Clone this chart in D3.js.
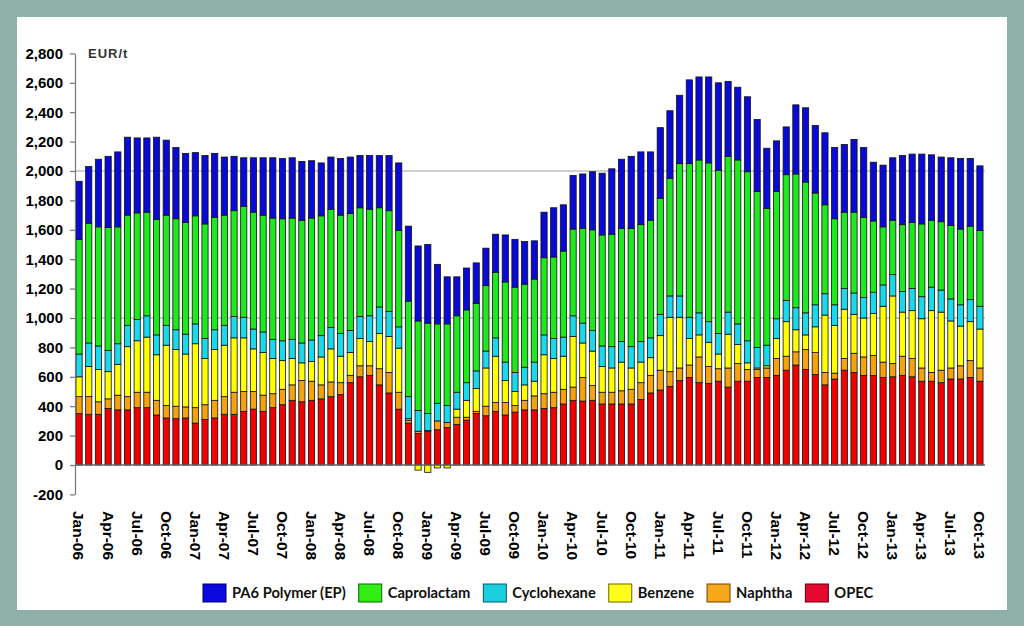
<!DOCTYPE html>
<html><head><meta charset="utf-8">
<script src="https://cdn.jsdelivr.net/npm/d3@7"></script>
<style>html,body{margin:0;padding:0;background:#8fb0a8;}svg{display:block;}</style>
</head><body>
<svg id="c" width="1024" height="626"></svg>
<script>
const months = ["Jan-06","Feb-06","Mar-06","Apr-06","May-06","Jun-06","Jul-06","Aug-06","Sep-06","Oct-06","Nov-06","Dec-06",
"Jan-07","Feb-07","Mar-07","Apr-07","May-07","Jun-07","Jul-07","Aug-07","Sep-07","Oct-07","Nov-07","Dec-07",
"Jan-08","Feb-08","Mar-08","Apr-08","May-08","Jun-08","Jul-08","Aug-08","Sep-08","Oct-08","Nov-08","Dec-08",
"Jan-09","Feb-09","Mar-09","Apr-09","May-09","Jun-09","Jul-09","Aug-09","Sep-09","Oct-09","Nov-09","Dec-09",
"Jan-10","Feb-10","Mar-10","Apr-10","May-10","Jun-10","Jul-10","Aug-10","Sep-10","Oct-10","Nov-10","Dec-10",
"Jan-11","Feb-11","Mar-11","Apr-11","May-11","Jun-11","Jul-11","Aug-11","Sep-11","Oct-11","Nov-11","Dec-11",
"Jan-12","Feb-12","Mar-12","Apr-12","May-12","Jun-12","Jul-12","Aug-12","Sep-12","Oct-12","Nov-12","Dec-12",
"Jan-13","Feb-13","Mar-13","Apr-13","May-13","Jun-13","Jul-13","Aug-13","Sep-13","Oct-13"];

const xTickLabels = ["Jan-06","Apr-06","Jul-06","Oct-06","Jan-07","Apr-07","Jul-07","Oct-07","Jan-08","Apr-08","Jul-08","Oct-08",
"Jan-09","Apr-09","Jul-09","Oct-09","Jan-10","Apr-10","Jul-10","Oct-10","Jan-11","Apr-11","Jul-11","Oct-11",
"Jan-12","Apr-12","Jul-12","Oct-12","Jan-13","Apr-13","Jul-13","Oct-13"];

const yTickValues = [-200,0,200,400,600,800,1000,1200,1400,1600,1800,2000,2200,2400,2600,2800];

// Stacked segment values (EUR/t)
const opec = [350,345,345,385,375,375,390,390,340,320,315,320,
285,310,320,345,345,365,380,365,390,410,440,430,
440,450,465,480,560,600,610,545,490,380,285,215,
230,240,255,275,305,350,335,365,340,360,375,375,
385,390,415,440,435,440,415,415,415,415,445,490,
510,535,575,595,560,555,570,530,570,570,595,595,
610,645,680,650,615,545,585,645,630,610,610,595,
600,610,600,570,570,560,585,585,595,570];
const naphtha = [115,120,85,65,100,90,105,105,100,85,85,75,
105,100,120,120,150,135,120,110,95,105,105,145,
130,95,100,80,50,75,65,110,140,115,20,15,
5,60,35,50,20,15,65,60,85,45,65,95,
100,105,100,90,160,100,80,80,90,100,115,120,
135,100,85,85,175,115,85,130,120,80,55,65,
115,95,90,135,150,85,40,80,130,125,135,105,
90,130,125,90,60,85,75,90,115,90];
const benzene = [135,205,220,185,210,340,350,375,310,410,385,360,
435,315,345,350,370,365,290,290,240,195,180,120,
135,190,225,180,155,185,165,240,245,300,10,-35,
-50,-20,-20,55,115,155,260,315,150,95,105,100,
265,230,225,345,235,235,175,165,195,145,140,120,
235,370,345,180,150,165,100,230,130,45,10,15,
135,235,150,100,175,390,325,335,265,265,285,380,
460,300,325,335,420,395,320,270,265,265];
const cyclohexane = [155,160,160,145,140,145,145,145,135,135,135,135,
135,135,135,135,145,140,135,140,130,135,130,135,
145,145,145,155,150,150,175,180,170,145,150,140,
115,120,115,115,120,120,115,125,125,130,120,130,
135,135,130,140,135,140,140,145,140,145,140,135,
145,145,145,145,150,140,140,150,140,150,140,140,
135,145,150,150,150,145,140,140,145,140,145,145,
145,140,150,150,160,150,150,145,150,155];
const caprolactam = [780,815,810,835,795,750,725,705,785,750,755,760,
735,780,765,750,720,755,795,795,825,830,825,835,
830,815,805,805,795,740,725,675,685,655,650,610,
615,540,555,520,495,460,445,445,545,580,565,565,
525,555,585,590,645,685,755,765,770,805,795,800,
790,800,900,1045,1040,1080,1110,1060,1115,1150,1060,930,
865,855,910,890,760,605,585,520,550,545,485,395,
370,455,450,495,455,465,500,515,500,515];
const pa6 = [395,385,460,485,510,530,510,505,560,510,485,470,
430,465,435,395,370,330,370,390,410,410,410,400,
390,360,355,385,385,355,365,355,375,460,510,510,
535,405,320,265,285,275,255,260,320,325,290,260,
310,335,315,365,370,395,420,445,470,490,495,465,
480,460,465,570,565,585,595,510,495,510,490,410,
345,325,470,505,460,490,485,460,495,475,400,420,
425,470,465,475,445,440,460,480,460,440];

const seriesNames = ["OPEC","Naphtha","Benzene","Cyclohexane","Caprolactam","PA6 Polymer (EP)"];
const seriesColors = ["#f20000","#f5a30c","#ffff00","#19d9ea","#1ee81e","#0a0ad8"];
const legendColors = ["#e6082e","#f5a81a","#ffff1a","#1ad0de","#30ee14","#0a0ae0"];
const legendStrokes = ["#5a0010","#6a4500","#666600","#105560","#106010","#00005a"];
const keys = ["opec","naphtha","benzene","cyclohexane","caprolactam","pa6"];

const rows = months.map((m,i)=>({month:m, opec:opec[i], naphtha:naphtha[i], benzene:benzene[i],
  cyclohexane:cyclohexane[i], caprolactam:caprolactam[i], pa6:pa6[i]}));

const svg = d3.select("#c");
svg.append("rect").attr("x",0).attr("y",0).attr("width",1024).attr("height",626).attr("fill","#8fb0a8");
svg.append("rect").attr("x",17).attr("y",17).attr("width",990).attr("height",593).attr("fill","#ffffff");

const x = d3.scaleBand().domain(months).range([75,984]).paddingInner(0.36).paddingOuter(0.1);
const y = d3.scaleLinear().domain([-200,2800]).range([494.4,53.4]);

const FONT = "'Liberation Sans', Arial, sans-serif";

// gridlines
svg.append("g").selectAll("line").data([1000,2000]).join("line")
  .attr("x1",75).attr("x2",985).attr("y1",d=>y(d)).attr("y2",d=>y(d))
  .attr("stroke","#a0a0a0").attr("stroke-width",1);

const stacked = d3.stack().keys(keys).offset(d3.stackOffsetDiverging)(rows);

svg.append("g").selectAll("g").data(stacked).join("g")
  .attr("fill",(d,i)=>seriesColors[i])
  .selectAll("rect").data(d=>d).join("rect")
  .attr("x",d=>x(d.data.month))
  .attr("width",x.bandwidth())
  .attr("y",d=>y(Math.max(d[0],d[1])))
  .attr("height",d=>Math.abs(y(d[0])-y(d[1])))
  .attr("stroke","#111").attr("stroke-width",0.8);

// zero line
svg.append("line").attr("x1",75).attr("x2",985).attr("y1",y(0)).attr("y2",y(0))
  .attr("stroke","#666").attr("stroke-width",1.3);

// y axis
const fmt = d3.format(",");
const yAxis = svg.append("g").attr("transform","translate(75,0)")
  .call(d3.axisLeft(y).tickValues(yTickValues).tickFormat(d=>fmt(d).replace("\u2212","-"))
    .tickSize(5).tickSizeOuter(0).tickPadding(7));
yAxis.attr("font-family",FONT);
yAxis.select(".domain").attr("stroke","#777").attr("stroke-width",1.2);
yAxis.selectAll(".tick line").attr("stroke","#777").attr("stroke-width",1.2);
yAxis.selectAll("text").style("font-family",FONT).attr("font-weight","bold")
  .attr("font-size","15px").attr("fill","#000");

svg.append("text").attr("x",88).attr("y",y(2800)).attr("dy","0.36em")
  .style("font-family",FONT).attr("font-weight","bold")
  .attr("font-size","13px").attr("letter-spacing","1px").attr("fill","#333").text("EUR/t");

// x axis labels
const xAxis = svg.append("g").attr("transform","translate(0,507)")
  .call(d3.axisBottom(x).tickValues(xTickLabels).tickSize(0).tickPadding(0));
xAxis.attr("font-family",FONT);
xAxis.select(".domain").remove();
xAxis.selectAll("text").attr("transform","rotate(90)").attr("x",4).attr("y",0).attr("dy","0.36em")
  .style("text-anchor","start")
  .style("font-family",FONT).attr("font-weight","bold")
  .attr("font-size","15.5px").attr("fill","#000");

// legend (reverse order)
const legendOrder = [5,4,3,2,1,0];
const lg = svg.append("g");
let lx = 203;
legendOrder.forEach(i=>{
  lg.append("rect").attr("x",lx).attr("y",584).attr("width",23).attr("height",18)
    .attr("fill",legendColors[i]).attr("stroke",legendStrokes[i]).attr("stroke-width",1);
  const t = lg.append("text").attr("x",lx+29).attr("y",593).attr("dy","0.35em")
    .style("font-family","Lato, 'Open Sans', sans-serif").attr("font-weight","bold")
    .attr("font-size","14.7px").attr("fill","#111").text(seriesNames[i]);
  lx += 29 + t.node().getComputedTextLength() + 13;
});
</script>
</body></html>
